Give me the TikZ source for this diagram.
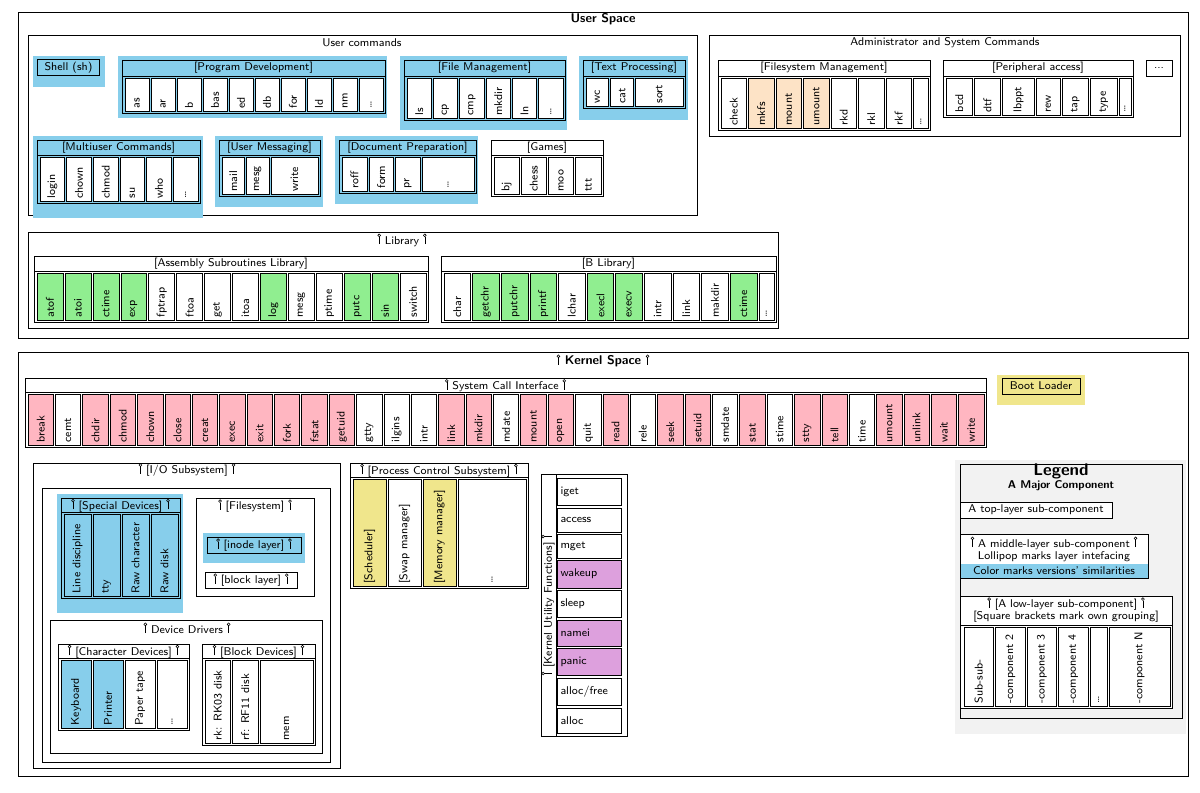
\documentclass[tikz,border=0pt]{standalone}
\usepackage{fontspec}
\setmainfont{Latin Modern Sans}
\definecolor{bl}{HTML}{87CEEB}
\definecolor{gr}{HTML}{90EE90}
\definecolor{pk}{HTML}{FFB6C1}
\definecolor{or}{HTML}{FDE3C6}
\definecolor{ye}{HTML}{F0E68C}
\definecolor{pu}{HTML}{DDA0DD}
\definecolor{lg}{HTML}{F2F2F2}
\newcommand\lp{\tikz[baseline=0pt,x=1pt,y=1pt]{\draw[line width=0.4pt] (0,0)--(0,5.2); \draw[line width=0.4pt] (0,6.2) circle (1);}}
\tikzset{
 cell/.style={draw,rotate=90,inner sep=0.05cm,align=left,font=\footnotesize},
 frm/.style={draw,line width=0.6pt},
 ttl/.style={font=\footnotesize,inner sep=1pt},
 hcell/.style={draw,font=\footnotesize,align=left,inner sep=2pt,text width=1.45cm,minimum height=0.6cm},
}
\newcommand\crow[7]{%
 \gdef\curx{#2}%
 \foreach \lab/\col/\wt [count=\i] in {#7}{%
  \pgfmathsetmacro\xs{\curx}%
  \pgfmathsetmacro\xe{\xs+(#3-#2)*\wt/#6}%
  \pgfmathsetmacro\cw{(\xe-\xs-2)*0.025}%
  \pgfmathsetmacro\ch{(#5-#4)*0.025}%
  \pgfmathsetmacro\tw{(#5-#4-5)*0.025}%
  \node[cell,fill=\col,minimum width=\ch cm,minimum height=\cw cm,text width=\tw cm] (#1\i) at ({(\xs+\xe)/2},{(#4+#5)/2}) {\lab};%
  \xdef\curx{\xe}%
 }}
\newcommand\grp[7]{%
 \draw[frm] (#2,#3) rectangle (#4,#5);
 \node[ttl] (#1) at ({(#2+#4)/2},{#3+7.5}) {#6};
 \draw (#2,#7) -- (#4,#7);}
\begin{document}
\begin{tikzpicture}[x=0.025cm,y=-0.025cm]
\useasboundingbox (0,0) rectangle (1200,792);
\draw[frm] (18,12) rectangle (1188,338);
\node[font=\small\bfseries] (us) at (603,19) {User Space};
\draw[frm] (28,35) rectangle (697,215);
\node[ttl] (uc) at (362,43) {User commands};
\fill[bl] (33,56) rectangle (105,87);
\node[draw,font=\footnotesize,minimum width=1.55cm,minimum height=0.4cm,inner sep=1pt] (sh) at (68.5,67.5) {Shell (sh)};
\fill[bl] (118,56) rectangle (387,118);
\grp{pd}{122}{60}{385}{113}{[Program Development]}{76}
\crow{pdc}{124}{384}{78}{111}{10}{as/white/1,ar/white/1,b/white/1,bas/white/1,ed/white/1,db/white/1,for/white/1,ld/white/1,nm/white/1,\ldots/white/1}
\fill[bl] (400,56) rectangle (567,130);
\grp{fm}{404}{60}{565}{120}{[File Management]}{76}
\crow{fmc}{406}{564}{78}{118}{6}{ls/white/1,cp/white/1,cmp/white/1,mkdir/white/1,ln/white/1,\ldots/white/1}
\fill[bl] (579,56) rectangle (688,120);
\grp{tp}{583}{60}{685}{108}{[Text Processing]}{76}
\crow{tpc}{585}{684}{78}{106}{4}{wc/white/1,cat/white/1,sort/white/2}
\fill[bl] (33,136) rectangle (203,218);
\grp{mu}{37}{140}{200}{203}{[Multiuser Commands]}{155}
\crow{muc}{39}{199}{157}{201}{6}{login/white/1,chown/white/1,chmod/white/1,su/white/1,who/white/1,\ldots/white/1}
\fill[bl] (215,136) rectangle (323,207);
\grp{um}{219}{140}{320}{196}{[User Messaging]}{155}
\crow{umc}{221}{319}{157}{194}{4}{mail/white/1,mesg/white/1,write/white/2}
\fill[bl] (335,136) rectangle (478,204);
\grp{dp}{339}{140}{476}{193}{[Document Preparation]}{155}
\crow{dpc}{341}{475}{157}{191}{5}{roff/white/1,form/white/1,pr/white/1,\ldots/white/2}
\grp{ga}{491}{140}{603}{196}{[Games]}{155}
\crow{gac}{493}{602}{157}{194}{4}{bj/white/1,chess/white/1,moo/white/1,ttt/white/1}
\draw[frm] (709,35) rectangle (1180,136);
\node[ttl] (ad) at (945,43) {Administrator and System Commands};
\grp{fsm}{718}{60}{930}{130}{[Filesystem Management]}{76}
\crow{fsmc}{720}{929}{78}{128}{7.6}{check/white/1,mkfs/or/1,mount/or/1,umount/or/1,rkd/white/1,rkl/white/1,rkf/white/1,\ldots/white/0.6}
\grp{pa}{943}{60}{1133}{117}{[Peripheral access]}{76}
\crow{pac}{945}{1132}{78}{115}{6.6}{bcd/white/1,dtf/white/1,lbppt/white/1.2,rew/white/0.9,tap/white/1,type/white/1,\ldots/white/0.5}
\node[draw,font=\footnotesize,minimum width=0.65cm,minimum height=0.4cm,inner sep=1pt] (ad3) at (1159,68) {...};
\draw[frm] (28,232) rectangle (778,328);
\node[ttl] (lib) at (402,240) {\lp\ Library \lp};
\grp{asl}{34}{256}{428}{322}{[Assembly Subroutines Library]}{271}
\crow{aslc}{36}{427}{273}{320}{14}{atof/gr/1,atoi/gr/1,ctime/gr/1,exp/gr/1,fptrap/white/1,ftoa/white/1,get/white/1,itoa/white/1,log/gr/1,mesg/white/1,ptime/white/1,putc/gr/1,sin/gr/1,switch/white/1}
\grp{bl}{441}{256}{776}{322}{[B Library]}{271}
\crow{blc}{443}{775}{273}{320}{11.6}{char/white/1,getchr/gr/1,putchr/gr/1,printf/gr/1,lchar/white/1,execl/gr/1,execv/gr/1,intr/white/1,link/white/1,makdir/white/1,ctime/gr/1,\ldots/white/0.6}
\draw[frm] (18,352) rectangle (1188,776);
\node[font=\small\bfseries] (ks) at (603,361) {\lp\ Kernel Space \lp};
\grp{sci}{25}{378}{986}{447}{\lp\ System Call Interface \lp}{392}
\crow{scic}{27}{985}{394}{445}{35}{break/pk/1,cemt/white/1,chdir/pk/1,chmod/pk/1,chown/pk/1,close/pk/1,creat/pk/1,exec/pk/1,exit/pk/1,fork/pk/1,fstat/pk/1,getuid/pk/1,gtty/white/1,ilgins/white/1,intr/white/1,link/pk/1,mkdir/pk/1,mdate/white/1,mount/pk/1,open/pk/1,quit/white/1,read/pk/1,rele/white/1,seek/pk/1,setuid/pk/1,smdate/white/1,stat/pk/1,stime/white/1,stty/pk/1,tell/pk/1,time/white/1,umount/pk/1,unlink/pk/1,wait/pk/1,write/pk/1}
\fill[ye] (997,375) rectangle (1085,405);
\node[draw,font=\footnotesize,minimum width=1.95cm,minimum height=0.4cm,inner sep=1pt] (boot) at (1041,386) {Boot Loader};
\draw[frm] (33,463) rectangle (340,768);
\node[ttl] (io) at (187,470) {\lp\ [I/O Subsystem] \lp};
\draw[frm] (42,488) rectangle (330,762);
\fill[bl] (57,494) rectangle (183,613);
\grp{sd}{61}{498}{180}{598}{\lp\ [Special Devices] \lp}{512}
\crow{sdc}{63}{179}{514}{596}{4}{Line discipline/bl/1,tty/bl/1,Raw character/bl/1,Raw disk/bl/1}
\draw[frm] (196,498) rectangle (314,596);
\node[ttl] (fs) at (255,506) {\lp\ [Filesystem] \lp};
\fill[bl] (203,533) rectangle (305,563);
\node[draw,font=\footnotesize,minimum width=2.35cm,minimum height=0.4cm,inner sep=1pt] (inode) at (254,545) {\lp\ [inode layer] \lp};
\node[draw,font=\footnotesize,minimum width=2.3cm,minimum height=0.4cm,inner sep=1pt] (block) at (251,580) {\lp\ [block layer] \lp};
\draw[frm] (50,620) rectangle (322,753);
\node[ttl] (dd) at (187,628) {\lp\ Device Drivers \lp};
\grp{cd}{58}{644}{189}{730}{\lp\ [Character Devices] \lp}{658}
\crow{cdc}{60}{188}{660}{728}{4}{Keyboard/bl/1,Printer/bl/1,Paper tape/white/1,\ldots/white/1}
\grp{bd}{202}{644}{315}{745}{\lp\ [Block Devices] \lp}{658}
\crow{bdc}{204}{314}{660}{743}{4}{rk: RK03 disk/white/1,rf: RF11 disk/white/1,mem/white/2}
\grp{pc}{350}{463}{528}{588}{\lp\ [Process Control Subsystem] \lp}{477}
\crow{pcc}{352}{527}{479}{586}{5}{[Scheduler]/ye/1,[Swap manager]/white/1,[Memory manager]/ye/1,\ldots/white/2}
\draw[frm] (541,474) rectangle (627,736);
\draw (556,474) -- (556,736);
\node[ttl,rotate=90] (ku) at (548,605) {\lp\ [Kernel Utility Functions] \lp};
\foreach \lab/\ya/\yb/\col [count=\i] in {iget/478/505/white,access/508/532/white,mget/534/558/white,wakeup/560/588/pu,sleep/590/617/white,namei/620/646/pu,panic/648/675/pu,alloc\slash free/678/705/white,alloc/708/733/white}{
 \pgfmathsetmacro\hh{(\yb-\ya)*0.025}
 \node[hcell,fill=\col,minimum height=\hh cm] (ku\i) at (589.5,{(\ya+\yb)/2}) {\lab};
}
\fill[lg] (955,460) rectangle (1186,734);
\draw[frm] (960,464) rectangle (1182,718);
\node[font=\large\bfseries,inner sep=1pt] (lgt) at (1061,471) {Legend};
\node[font=\footnotesize\bfseries,inner sep=1pt] (lgm) at (1061,486) {A Major Component};
\node[draw,fill=white,font=\footnotesize,minimum width=3.8cm,minimum height=0.4cm,inner sep=1pt] (lgtop) at (1036,510) {A top-layer sub-component};
\fill[white] (960,534) rectangle (1148,564);
\fill[bl] (960,564) rectangle (1148,578);
\draw[frm] (960,534) rectangle (1148,578);
\node[ttl] (lgmid) at (1054,543) {\lp\ A middle-layer sub-component \lp};
\node[ttl] (lgmid2) at (1054,557) {Lollipop marks layer intefacing};
\node[ttl] (lgmid3) at (1054,571) {Color marks versions' similarities};
\fill[white] (960,596) rectangle (1172,708);
\draw[frm] (960,596) rectangle (1172,708);
\node[ttl] (lglow) at (1066,604) {\lp\ [A low-layer sub-component] \lp};
\node[ttl] (lglow2) at (1066,617) {[Square brackets mark own grouping]};
\draw (960,625) -- (1172,625);
\crow{lgc}{963}{1171}{627}{706}{6.6}{Sub-sub-/white/1,-component 2/white/1,-component 3/white/1,-component 4/white/1,\ldots/white/0.6,-component N/white/2}
\end{tikzpicture}
\end{document}
